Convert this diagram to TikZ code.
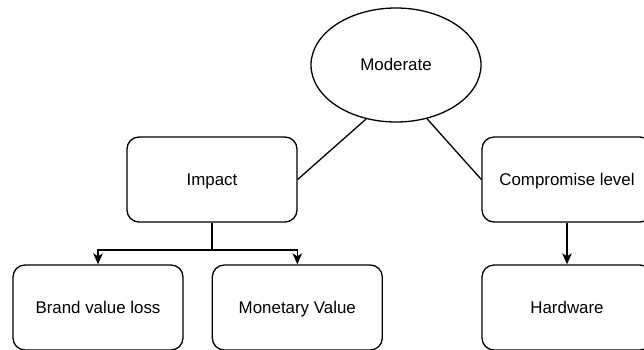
\documentclass[tikz,border=0pt]{standalone}
\usepackage{fontspec}
\setmainfont{Liberation Sans}
\usetikzlibrary{shapes.geometric,arrows.meta}
\begin{document}
\begin{tikzpicture}[x=1pt,y=-1pt,
  line width=1.3pt,
  label text/.style={font=\fontsize{16.9}{20}\selectfont, text height=12.2pt, text depth=1.2pt},
  box/.style={draw, rounded corners=12pt, minimum width=170pt, minimum height=85pt,
    inner sep=0pt, label text},
  oval/.style={draw, ellipse, minimum width=170pt, minimum height=114pt,
    inner sep=0pt, label text},
  arr/.style={-{Stealth[length=11pt,width=9.5pt,inset=3pt]}}]
  \useasboundingbox (0,0) rectangle (644,349);
  \clip (0,0) rectangle (644,349);

  % nodes
  \node[oval] (moderate) at (396,65) {Moderate};
  \node[box] (impact) at (212,179.5) {Impact};
  \node[box] (comp) at (567,179.5) {Compromise level};
  \node[box] (brand) at (98,307.5) {Brand value loss};
  \node[box] (money) at (297.3,307.5) {Monetary Value};
  \node[box] (hw) at (567,307.5) {Hardware};

  % links from the root
  \draw (moderate.241) -- (impact.east);
  \draw (moderate.300) -- (comp.west);

  % impact split
  \coordinate (split) at (212,250);
  \draw (impact.south) -- (split);
  \draw[arr] (split) -| (brand.north);
  \draw[arr] (split) -| (money.north);

  % compromise level
  \draw[arr] (comp.south) -- (hw.north);
\end{tikzpicture}
\end{document}
